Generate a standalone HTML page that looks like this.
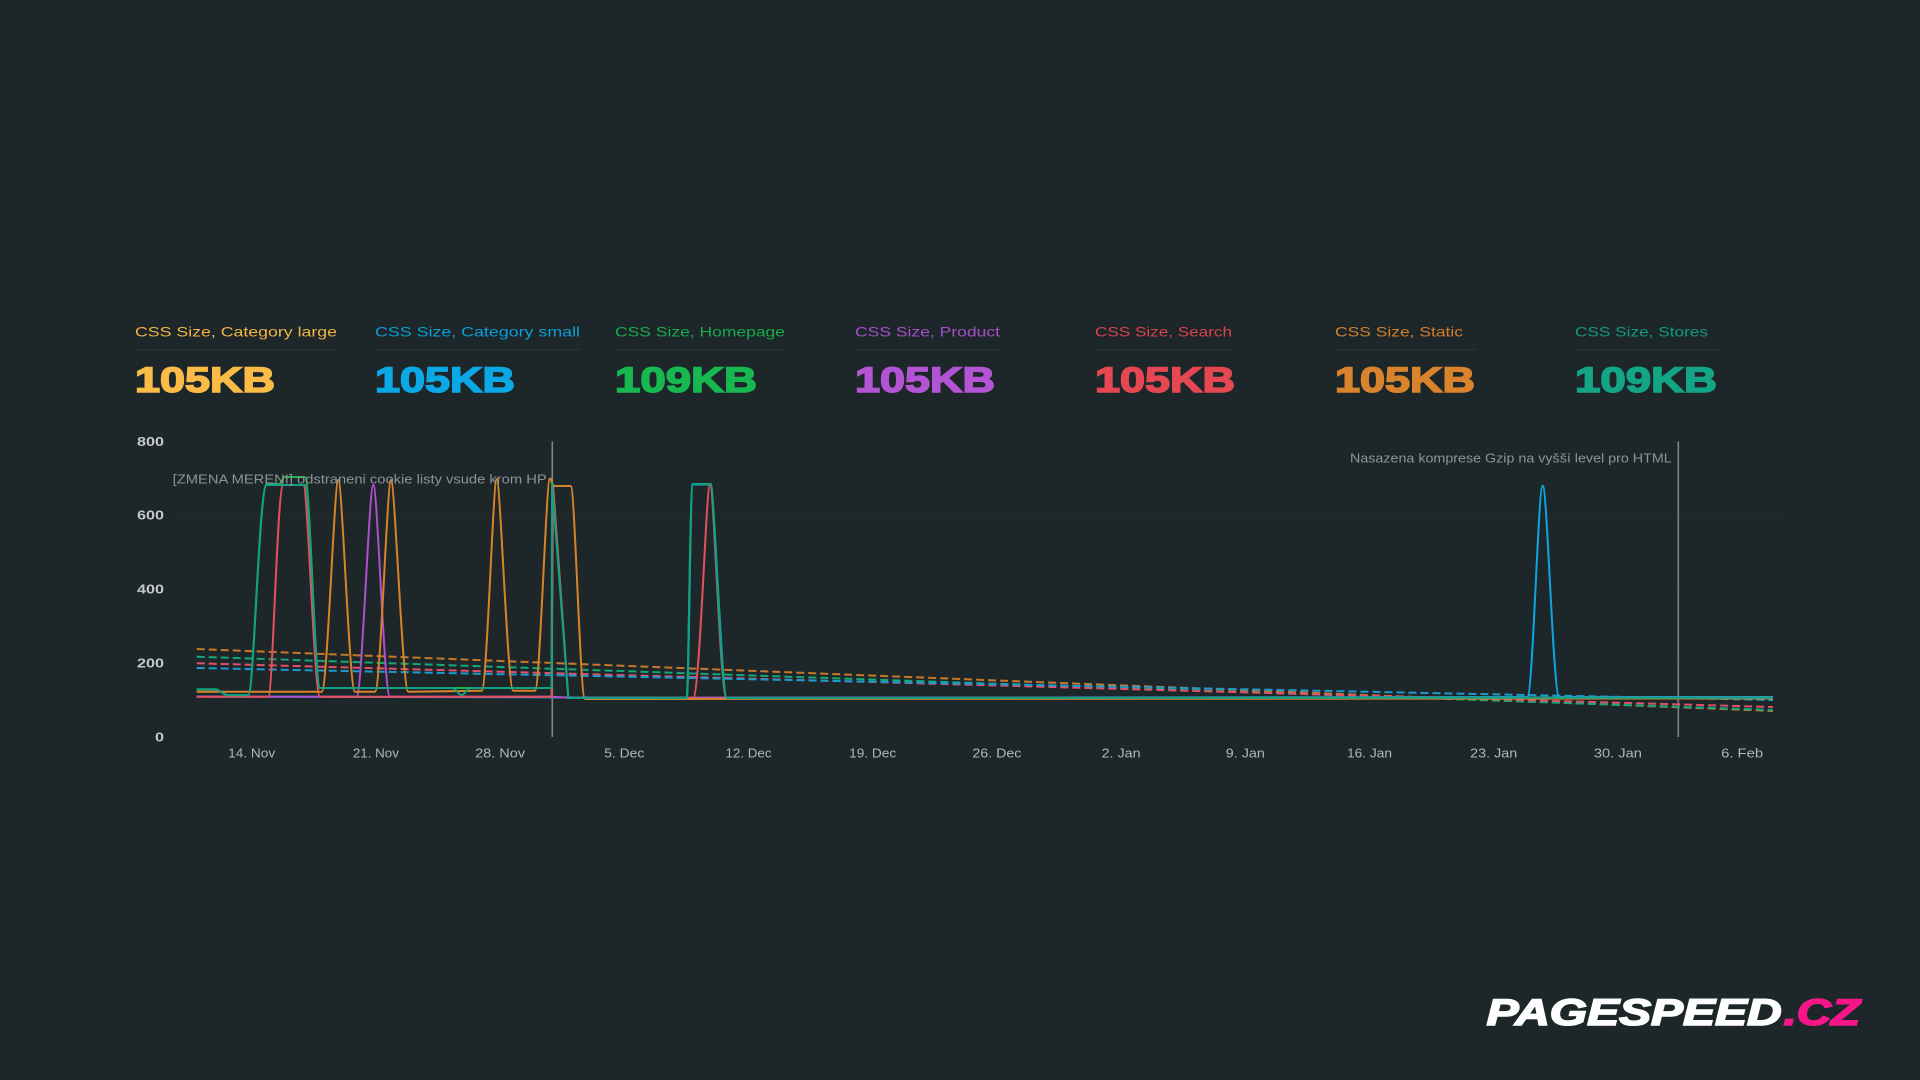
<!DOCTYPE html>
<html>
<head>
<meta charset="utf-8">
<style>
html,body{margin:0;padding:0;background:#1d2629;width:1920px;height:1080px;overflow:hidden;}
svg{display:block;}
text{font-family:"Liberation Sans",Arial,sans-serif;}
</style>
</head>
<body>
<svg width="1920" height="1080" viewBox="0 0 1920 1080" xmlns="http://www.w3.org/2000/svg">
<rect x="0" y="0" width="1920" height="1080" fill="#1d2629"/>

<!-- Legend -->
<g font-size="14">
  <text x="135" y="336.7" fill="#f2b443" textLength="202" lengthAdjust="spacingAndGlyphs">CSS Size, Category large</text>
  <text x="375" y="336.7" fill="#0a9fd8" textLength="205" lengthAdjust="spacingAndGlyphs">CSS Size, Category small</text>
  <text x="615" y="336.7" fill="#16ad4b" textLength="170" lengthAdjust="spacingAndGlyphs">CSS Size, Homepage</text>
  <text x="855" y="336.7" fill="#a64fc6" textLength="145" lengthAdjust="spacingAndGlyphs">CSS Size, Product</text>
  <text x="1095" y="336.7" fill="#d9434d" textLength="137" lengthAdjust="spacingAndGlyphs">CSS Size, Search</text>
  <text x="1335" y="336.7" fill="#d17f2b" textLength="128" lengthAdjust="spacingAndGlyphs">CSS Size, Static</text>
  <text x="1575" y="336.7" fill="#129a7b" textLength="133" lengthAdjust="spacingAndGlyphs">CSS Size, Stores</text>
</g>
<g stroke="#2c3538" stroke-width="1">
  <line x1="135" y1="349.5" x2="338" y2="349.5"/>
  <line x1="375" y1="349.5" x2="580" y2="349.5"/>
  <line x1="615" y1="349.5" x2="785" y2="349.5"/>
  <line x1="855" y1="349.5" x2="1000" y2="349.5"/>
  <line x1="1095" y1="349.5" x2="1235" y2="349.5"/>
  <line x1="1335" y1="349.5" x2="1476" y2="349.5"/>
  <line x1="1575" y1="349.5" x2="1718" y2="349.5"/>
</g>
<g font-size="35.5" font-weight="bold" stroke-width="1.6">
  <text x="135" y="392" fill="#fbbc47" stroke="#fbbc47" textLength="140" lengthAdjust="spacingAndGlyphs">105KB</text>
  <text x="375" y="392" fill="#0ba8e6" stroke="#0ba8e6" textLength="140" lengthAdjust="spacingAndGlyphs">105KB</text>
  <text x="615" y="392" fill="#17b850" stroke="#17b850" textLength="142" lengthAdjust="spacingAndGlyphs">109KB</text>
  <text x="855" y="392" fill="#b354d4" stroke="#b354d4" textLength="140" lengthAdjust="spacingAndGlyphs">105KB</text>
  <text x="1095" y="392" fill="#e54753" stroke="#e54753" textLength="140" lengthAdjust="spacingAndGlyphs">105KB</text>
  <text x="1335" y="392" fill="#d9832c" stroke="#d9832c" textLength="140" lengthAdjust="spacingAndGlyphs">105KB</text>
  <text x="1575" y="392" fill="#14a586" stroke="#14a586" textLength="142" lengthAdjust="spacingAndGlyphs">109KB</text>
</g>

<!-- Grid -->
<g stroke="#222d30" stroke-width="1">
  <line x1="176" y1="441.1" x2="1785" y2="441.1"/>
  <line x1="176" y1="515" x2="1785" y2="515"/>
  <line x1="176" y1="588.9" x2="1785" y2="588.9"/>
  <line x1="176" y1="662.8" x2="1785" y2="662.8"/>
</g>

<!-- Y labels -->
<g font-size="13" font-weight="bold" fill="#c5c8c9">
  <text x="137" y="445.8" textLength="27" lengthAdjust="spacingAndGlyphs">800</text>
  <text x="137" y="519.7" textLength="27" lengthAdjust="spacingAndGlyphs">600</text>
  <text x="137" y="593.6" textLength="27" lengthAdjust="spacingAndGlyphs">400</text>
  <text x="137" y="667.5" textLength="27" lengthAdjust="spacingAndGlyphs">200</text>
  <text x="155" y="741.4" textLength="9" lengthAdjust="spacingAndGlyphs">0</text>
</g>

<!-- X labels -->
<g font-size="13" fill="#b2b6b8" text-anchor="middle">
  <text x="251.7" y="757.4" textLength="47" lengthAdjust="spacingAndGlyphs">14. Nov</text>
  <text x="375.9" y="757.4" textLength="46" lengthAdjust="spacingAndGlyphs">21. Nov</text>
  <text x="500.1" y="757.4" textLength="50" lengthAdjust="spacingAndGlyphs">28. Nov</text>
  <text x="624.3" y="757.4" textLength="40" lengthAdjust="spacingAndGlyphs">5. Dec</text>
  <text x="748.5" y="757.4" textLength="46" lengthAdjust="spacingAndGlyphs">12. Dec</text>
  <text x="872.7" y="757.4" textLength="47" lengthAdjust="spacingAndGlyphs">19. Dec</text>
  <text x="996.9" y="757.4" textLength="49" lengthAdjust="spacingAndGlyphs">26. Dec</text>
  <text x="1121.1" y="757.4" textLength="39" lengthAdjust="spacingAndGlyphs">2. Jan</text>
  <text x="1245.3" y="757.4" textLength="39" lengthAdjust="spacingAndGlyphs">9. Jan</text>
  <text x="1369.5" y="757.4" textLength="45" lengthAdjust="spacingAndGlyphs">16. Jan</text>
  <text x="1493.7" y="757.4" textLength="47" lengthAdjust="spacingAndGlyphs">23. Jan</text>
  <text x="1617.9" y="757.4" textLength="48" lengthAdjust="spacingAndGlyphs">30. Jan</text>
  <text x="1742.1" y="757.4" textLength="42" lengthAdjust="spacingAndGlyphs">6. Feb</text>
</g>

<!-- Annotation lines -->
<g stroke="#7d8386" stroke-width="1.6">
  <line x1="552.3" y1="441.5" x2="552.3" y2="737"/>
  <line x1="1678.3" y1="441.5" x2="1678.3" y2="737"/>
</g>

<!-- Dashed trend lines -->
<g fill="none" stroke-width="2" stroke-dasharray="8 4">
  <line x1="196.7" y1="649" x2="1773" y2="711" stroke="#c7782b"/>
  <line x1="196.7" y1="656.7" x2="1773" y2="710" stroke="#14a878"/>
  <line x1="196.7" y1="663.3" x2="1773" y2="707" stroke="#e0506a"/>
  <line x1="196.7" y1="668" x2="1773" y2="700" stroke="#1a9ad0"/>
</g>

<!-- Solid series -->
<g fill="none" stroke-width="2" stroke-linejoin="round">
  <path stroke="#f5b845" d="M568.3,697.7 L1773,697.7"/>
  <path stroke="#0ea5e0" d="M196.7,696.5 L686.7,697.7 C689,697.7 690,484.5 693,484.5 L710.7,484.5 C714,484.5 722,697.7 726.7,697.7 L1527.3,697 C1533,697 1538,485.7 1542.7,485.7 C1547.4,485.7 1553,697 1559.3,697 L1773,697"/>
  <path stroke="#1db34f" d="M196.7,689.5 L216.7,689.5 L226.7,695.3 L248.3,695.3 C254,695.3 259,484 266.7,484 L280,484 L284,477 L305,477 C310,477 315,688 320,688 L551.5,688 L553,484 L568.3,697.7 L686.7,697.7 C688.5,697.7 690,484 692.7,484 L710.7,484 C714,484 721,697.7 726.7,697.7 L1773,697.7"/>
  <path stroke="#b050d0" d="M196.7,696.7 L356.7,696.7 C362,696.7 369,485 373.3,485 C377.6,485 384,696.7 390,696.7 L551.5,696.7 L568.3,697.7 L1773,697.7"/>
  <path stroke="#e6505e" d="M196.7,696.7 L268.3,696.7 C273,696.7 277,485 283.3,485 L303.3,485 C308,485 314,696.7 320,696.7 L551.5,696.7 L553,486 L568.3,698 L693,698 C700,698 706,484 710,484 C714,484 720,698 726.7,698 L1773,698"/>
  <path stroke="#d8832a" d="M196.7,691.7 L321.7,691.7 C327.5,691.7 334.2,480 338.3,480 C342.4,480 349.2,691.7 355,691.7 L375,691.7 C380.6,691.7 387,480 391,480 C395,480 402.5,691.7 408.3,691.7 L481.7,690.7 C487,690.7 493,479 496.7,479 C500.5,479 507.5,690.7 513.3,690.7 L535,690.7 C540,690.7 546,478.5 550,478.5 C551.5,478.5 552,486 553.5,486 L570.7,486 C575,486 580,699 585,699 L1773,698.5"/>
  <path stroke="#12a182" d="M196.7,689.3 L216.7,689.3 L226.7,695.3 L248.3,695.3 C254,695.3 259,485 266.7,485 L305,485 C310,485 315,688 320,688 L452,688 C456,688 458,695 461.7,695 C465,695 467,688 471,688 L551.5,688 L552,483.5 L568.3,698 L686.7,698 C688.5,698 690,484 692.7,484 L710.7,484 C714,484 721,698 726.7,698 L1773,697.7"/>
</g>

<!-- Annotation texts -->
<g font-size="13" fill="#8e9496">
  <text x="172.7" y="483.7" textLength="374" lengthAdjust="spacingAndGlyphs">[ZMENA MERENI] odstraneni cookie listy vsude krom HP</text>
  <text x="1350" y="462.5" textLength="321.7" lengthAdjust="spacingAndGlyphs">Nasazena komprese Gzip na vyšší level pro HTML</text>
</g>

<!-- Logo -->
<g font-size="37" font-weight="bold" font-style="italic" stroke-width="1.6">
  <text x="1486.7" y="1025" fill="#ffffff" stroke="#ffffff" textLength="295" lengthAdjust="spacingAndGlyphs">PAGESPEED</text>
  <text x="1783.5" y="1025" fill="#f7168a" stroke="#f7168a" textLength="76.5" lengthAdjust="spacingAndGlyphs">.CZ</text>
</g>
</svg>
</body>
</html>
